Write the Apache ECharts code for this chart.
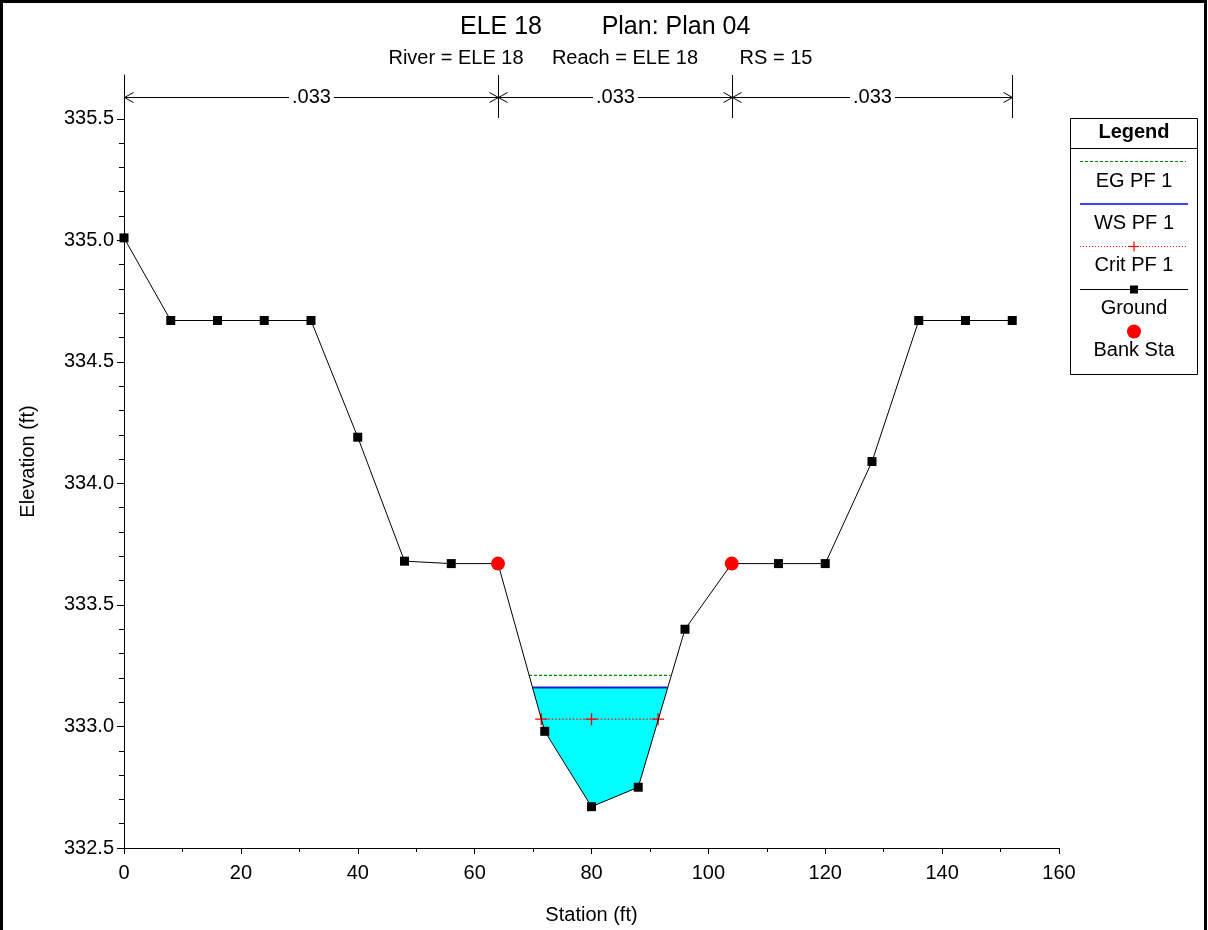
<!DOCTYPE html>
<html>
<head>
<meta charset="utf-8">
<script src="https://cdn.jsdelivr.net/npm/echarts@6/dist/echarts.min.js"></script>
<style>
  html, body { margin: 0; padding: 0; background: #fff; }
  #chart { width: 1208px; height: 930px; }
</style>
</head>
<body>
<div id="chart"></div>
<script>
// ---- Data ----
const groundStations = [0, 8, 16, 24, 32, 40, 48, 56, 64, 72, 80, 88, 96, 104, 112, 120, 128, 136, 144, 152];
const groundElev     = [335.01, 334.67, 334.67, 334.67, 334.67, 334.19, 333.68, 333.67, 333.67, 332.98, 332.67, 332.75, 333.40, 333.67, 333.67, 333.67, 334.09, 334.67, 334.67, 334.67];
const bankStations = [64, 104];
const bankElev     = [333.67, 333.67];
const egStations = [69.3, 93.5];
const egElev = 333.21;
const wsStations = [69.9, 93.0];
const wsElev = 333.16;
const critStations = [71.4, 80, 91.4];
const critElev = 333.03;
const nBounds = [[0, 64], [64, 104], [104, 152]];
const nValues = ['.033', '.033', '.033'];
const yMajor = [332.5, 333.0, 333.5, 334.0, 334.5, 335.0, 335.5];
const yMinor = [332.6, 332.7, 332.8, 332.9, 333.1, 333.2, 333.3, 333.4, 333.6, 333.7, 333.8, 333.9,
                334.1, 334.2, 334.3, 334.4, 334.6, 334.7, 334.8, 334.9, 335.1, 335.2, 335.3, 335.4];
const yMin = 332.5, yMax = 335.68;

const FONT = '"Liberation Sans", Arial, sans-serif';

const groundData = groundStations.map((s, i) => [s, groundElev[i]]);
const bankData = bankStations.map((s, i) => [s, bankElev[i]]);
const egData = egStations.map(s => [s, egElev]);
const wsData = wsStations.map(s => [s, wsElev]);
const critData = critStations.map(s => [s, critElev]);
const waterPoly = [[wsStations[0], wsElev]]
  .concat(groundData.filter(p => p[0] > wsStations[0] && p[0] < wsStations[1]))
  .concat([[wsStations[1], wsElev]]);
const nData = nBounds.map(b => [b[0], b[1], yMax]);

const plusPath = 'path://M-0.7,-6H0.7V-0.7H6V0.7H0.7V6H-0.7V0.7H-6V-0.7H-0.7Z';

const chart = echarts.init(document.getElementById('chart'), null, { renderer: 'canvas' });

const option = {
  animation: false,
  backgroundColor: '#fff',
  textStyle: { fontFamily: FONT },
  grid: { left: 124, right: 149, top: 75, bottom: 82, containLabel: false },
  xAxis: {
    type: 'value', min: 0, max: 160, interval: 20,
    name: 'Station (ft)', nameLocation: 'middle', nameGap: 57,
    nameTextStyle: { fontSize: 20, color: '#000', fontFamily: FONT },
    axisLine: { show: true, lineStyle: { color: '#000', width: 1 } },
    axisTick: { show: true, length: 6, lineStyle: { color: '#000' } },
    minorTick: { show: true, splitNumber: 2, length: 4, lineStyle: { color: '#000' } },
    splitLine: { show: false },
    axisLabel: { fontSize: 20, color: '#000', margin: 15, fontFamily: FONT }
  },
  yAxis: [{
    type: 'value', min: yMin, max: yMax, position: 'left',
    name: 'Elevation (ft)', nameLocation: 'middle', nameGap: 86,
    nameTextStyle: { fontSize: 20, color: '#000', fontFamily: FONT },
    axisLine: { show: true, lineStyle: { color: '#000', width: 1 } },
    axisTick: { show: true, length: 7, lineStyle: { color: '#000' }, customValues: yMajor },
    splitLine: { show: false },
    axisLabel: { fontSize: 20, color: '#000', margin: 10, fontFamily: FONT,
      customValues: yMajor, formatter: v => Number(v).toFixed(1) }
  }, {
    type: 'value', min: yMin, max: yMax, position: 'left', offset: 0,
    axisLine: { show: false },
    axisTick: { show: true, length: 5, lineStyle: { color: '#000' }, customValues: yMinor },
    splitLine: { show: false },
    axisLabel: { show: false }
  }],
  graphic: [
    { type: 'rect', shape: { x: 1.5, y: 1.5, width: 1204, height: 960 },
      style: { fill: 'none', stroke: '#000', lineWidth: 3 }, silent: true },
    // Titles
    { type: 'text', x: 501, y: 27, style: { text: 'ELE 18', font: '25px ' + FONT, fill: '#000', textAlign: 'center', textVerticalAlign: 'middle' } },
    { type: 'text', x: 676, y: 27, style: { text: 'Plan: Plan 04', font: '25px ' + FONT, fill: '#000', textAlign: 'center', textVerticalAlign: 'middle' } },
    { type: 'text', x: 456, y: 58, style: { text: 'River = ELE 18', font: '20px ' + FONT, fill: '#000', textAlign: 'center', textVerticalAlign: 'middle' } },
    { type: 'text', x: 625, y: 58, style: { text: 'Reach = ELE 18', font: '20px ' + FONT, fill: '#000', textAlign: 'center', textVerticalAlign: 'middle' } },
    { type: 'text', x: 776, y: 58, style: { text: 'RS = 15', font: '20px ' + FONT, fill: '#000', textAlign: 'center', textVerticalAlign: 'middle' } },
    // Legend box
    { type: 'group', children: [
      { type: 'rect', shape: { x: 1070.5, y: 118.5, width: 127, height: 256 }, style: { fill: '#fff', stroke: '#000', lineWidth: 1 } },
      { type: 'text', x: 1134, y: 132, style: { text: 'Legend', font: 'bold 20px ' + FONT, fill: '#000', textAlign: 'center', textVerticalAlign: 'middle' } },
      { type: 'line', shape: { x1: 1070, y1: 148.5, x2: 1198, y2: 148.5 }, style: { stroke: '#000', lineWidth: 1 } },
      { type: 'line', shape: { x1: 1080, y1: 161.5, x2: 1186, y2: 161.5 }, style: { stroke: '#008000', lineWidth: 1, lineDash: [3, 2] } },
      { type: 'text', x: 1134, y: 181, style: { text: 'EG PF 1', font: '20px ' + FONT, fill: '#000', textAlign: 'center', textVerticalAlign: 'middle' } },
      { type: 'line', shape: { x1: 1080, y1: 204, x2: 1188, y2: 204 }, style: { stroke: '#4040ff', lineWidth: 2 } },
      { type: 'text', x: 1134, y: 223, style: { text: 'WS PF 1', font: '20px ' + FONT, fill: '#000', textAlign: 'center', textVerticalAlign: 'middle' } },
      { type: 'line', shape: { x1: 1080, y1: 246.5, x2: 1186, y2: 246.5 }, style: { stroke: '#ff0000', lineWidth: 1, lineDash: [1, 2] } },
      { type: 'line', shape: { x1: 1134, y1: 241.5, x2: 1134, y2: 251.5 }, style: { stroke: '#ff0000', lineWidth: 1.2 } },
      { type: 'line', shape: { x1: 1129, y1: 246.5, x2: 1139, y2: 246.5 }, style: { stroke: '#ff0000', lineWidth: 1.2 } },
      { type: 'text', x: 1134, y: 265, style: { text: 'Crit PF 1', font: '20px ' + FONT, fill: '#000', textAlign: 'center', textVerticalAlign: 'middle' } },
      { type: 'line', shape: { x1: 1080, y1: 289.5, x2: 1188, y2: 289.5 }, style: { stroke: '#000', lineWidth: 1 } },
      { type: 'rect', shape: { x: 1130, y: 285.5, width: 8, height: 8 }, style: { fill: '#000' } },
      { type: 'text', x: 1134, y: 308, style: { text: 'Ground', font: '20px ' + FONT, fill: '#000', textAlign: 'center', textVerticalAlign: 'middle' } },
      { type: 'circle', shape: { cx: 1134, cy: 331.5, r: 7 }, style: { fill: '#ff0000' } },
      { type: 'text', x: 1134, y: 350, style: { text: 'Bank Sta', font: '20px ' + FONT, fill: '#000', textAlign: 'center', textVerticalAlign: 'middle' } }
    ] }
  ],
  series: [
    {
      name: 'Water', type: 'custom', z: 1, silent: true,
      data: waterPoly,
      renderItem: function (params, api) {
        if (params.dataIndex !== 0) return null;
        const pts = waterPoly.map(p => api.coord(p));
        return { type: 'polygon', shape: { points: pts }, style: { fill: '#00ffff', stroke: 'none' } };
      }
    },
    {
      name: 'EG PF 1', type: 'line', z: 3, data: egData, symbol: 'none',
      lineStyle: { color: '#008a00', width: 1.3, type: [3, 2] }
    },
    {
      name: 'WS PF 1', type: 'line', z: 3, data: wsData, symbol: 'none',
      lineStyle: { color: '#1e1ecc', width: 2 }
    },
    {
      name: 'Crit PF 1', type: 'line', z: 3, data: critData,
      symbol: plusPath, symbolSize: 12,
      itemStyle: { color: '#ff0000', opacity: 1 },
      lineStyle: { color: '#ff0000', width: 1.3, type: [1.5, 2] }
    },
    {
      name: 'Ground', type: 'line', z: 4, data: groundData,
      symbol: 'rect', symbolSize: 9,
      itemStyle: { color: '#000', opacity: 1 },
      lineStyle: { color: '#000', width: 1 }
    },
    {
      name: 'Bank Sta', type: 'scatter', z: 5, data: bankData,
      symbol: 'circle', symbolSize: 14,
      itemStyle: { color: '#ff0000', opacity: 1 }
    },
    {
      name: 'Manning n', type: 'custom', z: 6, silent: true, clip: false,
      data: nData,
      encode: { x: [0, 1], y: 2 },
      renderItem: function (params, api) {
        const p0 = api.coord([api.value(0), api.value(2)]);
        const p1 = api.coord([api.value(1), api.value(2)]);
        const top = p0[1];
        const ay = Math.round(top + 22) + 0.5;
        const x0 = Math.round(p0[0]) + 0.5, x1 = Math.round(p1[0]) + 0.5;
        const stroke = { stroke: '#000', lineWidth: 1, fill: 'none' };
        return {
          type: 'group',
          children: [
            { type: 'line', shape: { x1: x0, y1: top, x2: x0, y2: top + 43 }, style: stroke },
            { type: 'line', shape: { x1: x1, y1: top, x2: x1, y2: top + 43 }, style: stroke },
            { type: 'line', shape: { x1: x0, y1: ay, x2: x1, y2: ay }, style: stroke },
            { type: 'polyline', shape: { points: [[x0 + 9, ay - 5], [x0, ay], [x0 + 9, ay + 5]] }, style: stroke },
            { type: 'polyline', shape: { points: [[x1 - 9, ay - 5], [x1, ay], [x1 - 9, ay + 5]] }, style: stroke },
            { type: 'text', x: (x0 + x1) / 2, y: ay,
              style: { text: nValues[params.dataIndex], font: '20px ' + FONT, fill: '#000',
                textAlign: 'center', textVerticalAlign: 'middle', backgroundColor: '#fff', padding: [0, 3] } }
          ]
        };
      }
    }
  ]
};
chart.setOption(option);
</script>
</body>
</html>
